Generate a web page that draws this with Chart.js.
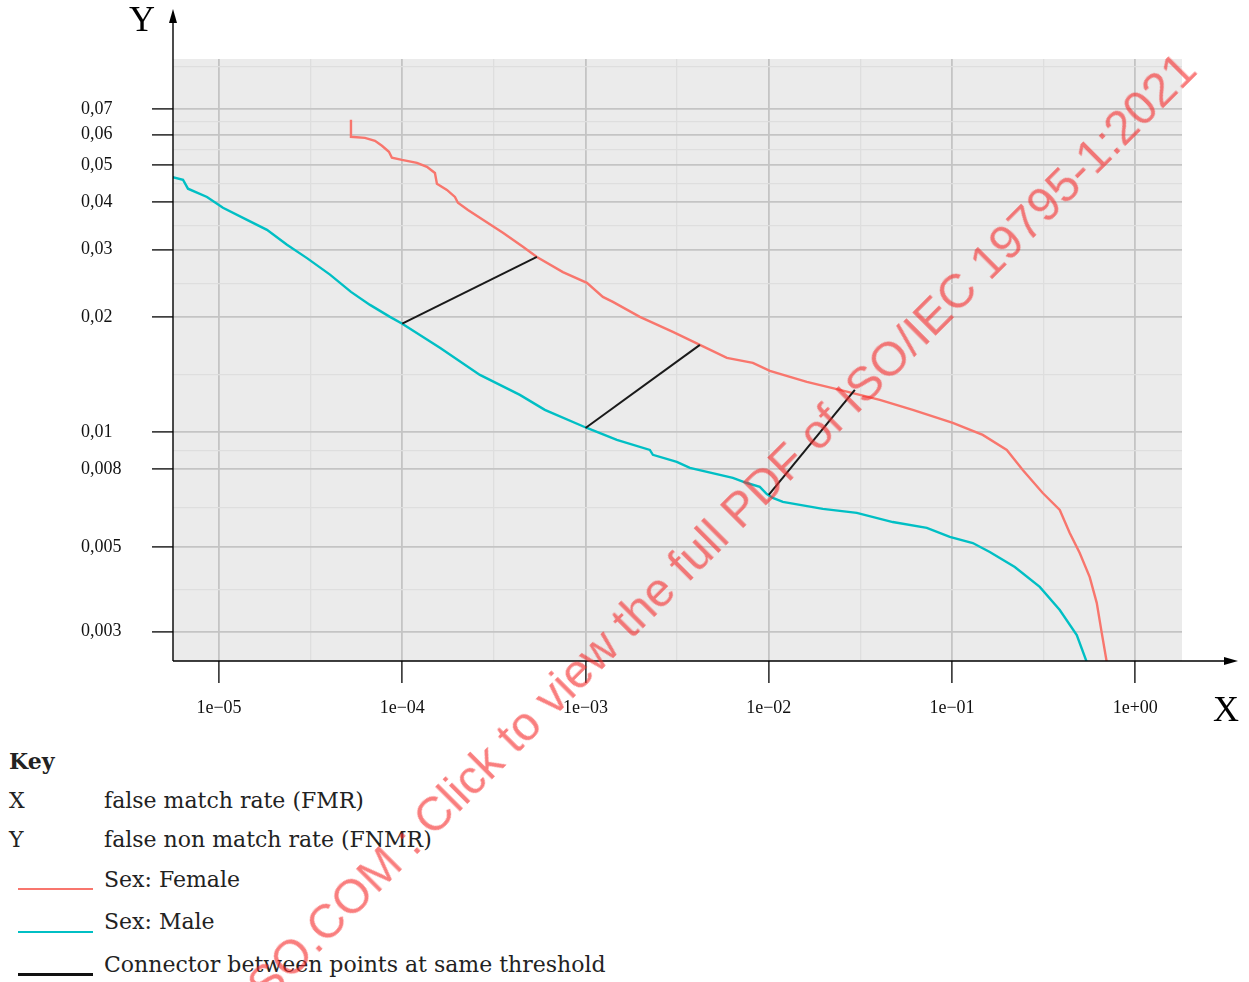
<!DOCTYPE html>
<html>
<head>
<meta charset="utf-8">
<script src="https://cdn.jsdelivr.net/npm/chart.js@4.4.1/dist/chart.umd.min.js"></script>
<style>
  body { margin: 0; background: #fff; width: 1249px; height: 982px; overflow: hidden; position: relative; }
  #wrap { position: absolute; left: 0; top: 0; width: 1249px; height: 740px; }
  .key { position: absolute; font-family: 'DejaVu Serif', serif; font-size: 22px; color: #222; line-height: 30px; white-space: nowrap; }
  .swatch { position: absolute; left: 18px; width: 75px; height: 2px; }
  #wm {
    position: absolute; right: 44px; top: 30px;
    font: 48px 'Liberation Sans', Arial, sans-serif; line-height: 48px;
    color: rgba(245, 40, 40, 0.6); white-space: nowrap;
    transform-origin: 100% 100%; transform: rotate(-45deg);
    pointer-events: none;
  }
</style>
</head>
<body>
<div id="wrap"><canvas id="chart" width="1249" height="740"></canvas></div>

<div class="key" style="left:9px; top:746px; font-weight:bold;">Key</div>
<div class="key" style="left:9px; top:786px;">X</div>
<div class="key" style="left:104px; top:786px;">false match rate (FMR)</div>
<div class="key" style="left:9px; top:825px;">Y</div>
<div class="key" style="left:104px; top:825px;">false non match rate (FNMR)</div>
<div class="swatch" style="top:888px; background:#F8766D;"></div>
<div class="key" style="left:104px; top:865px;">Sex: Female</div>
<div class="swatch" style="top:931px; background:#00BFC4;"></div>
<div class="key" style="left:104px; top:907px;">Sex: Male</div>
<div class="swatch" style="top:973px; height:3px; background:#111;"></div>
<div class="key" style="left:104px; top:950px;">Connector between points at same threshold</div>

<div id="wm">STANDARDSISO.COM : Click to view the full PDF of ISO/IEC 19795-1:2021</div>

<script>
// FMR / FNMR
const femaleFmr = [5.25e-5, 5.25e-5, 6.26e-5, 7.10e-5, 7.75e-5, 8.46e-5, 8.78e-5, 9.96e-5, 1.203e-4, 1.364e-4,
  1.508e-4, 1.546e-4, 1.753e-4, 1.939e-4, 2.013e-4, 2.283e-4, 2.756e-4, 3.543e-4, 4.556e-4, 5.43e-4,
  7.53e-4, 1.018e-3, 1.244e-3, 1.411e-3, 1.980e-3, 2.998e-3, 4.21e-3, 5.91e-3, 8.19e-3, 0.01014,
  0.01614, 0.02443, 0.04037, 0.0611, 0.1010, 0.1472, 0.1991, 0.2434, 0.3129, 0.3875,
  0.4392, 0.4979, 0.5646, 0.6166, 0.6566, 0.6991];
const femaleFnmr = [0.0656, 0.0592, 0.0588, 0.0578, 0.0561, 0.0541, 0.0522, 0.0515, 0.0506, 0.0494,
  0.0476, 0.0446, 0.0430, 0.0412, 0.0398, 0.0381, 0.0359, 0.0332, 0.0305, 0.0287,
  0.0262, 0.02455, 0.02256, 0.02189, 0.0200, 0.01827, 0.0169, 0.01562, 0.01516, 0.01444,
  0.01352, 0.01288, 0.01213, 0.01142, 0.01056, 0.00982, 0.00897, 0.00795, 0.00692, 0.00625,
  0.00544, 0.00482, 0.00417, 0.00357, 0.00298, 0.0025];

const maleFmr = [5.5e-6, 6.36e-6, 6.77e-6, 8.60e-6, 1.051e-5, 1.422e-5, 1.827e-5, 2.350e-5, 3.021e-5, 4.033e-5,
  5.25e-5, 6.67e-5, 8.57e-5, 1.0e-4, 1.605e-4, 2.654e-4, 4.385e-4, 6.00e-4, 1.018e-3, 1.483e-3,
  2.245e-3, 2.332e-3, 3.15e-3, 3.712e-3, 6.37e-3, 7.60e-3, 8.94e-3, 9.76e-3, 0.01053, 0.01194,
  0.01973, 0.03024, 0.04753, 0.0729, 0.0973, 0.1299, 0.1608, 0.2202, 0.3013, 0.3875,
  0.4797, 0.5437];
const maleFnmr = [0.0465, 0.0457, 0.0433, 0.0412, 0.0386, 0.0359, 0.0338, 0.0309, 0.0285, 0.0258,
  0.02325, 0.0215, 0.0200, 0.0192, 0.0166, 0.0141, 0.0125, 0.01142, 0.01024, 0.00953,
  0.00897, 0.00871, 0.00835, 0.00805, 0.00758, 0.00735, 0.00718, 0.00688, 0.00672, 0.00656,
  0.00629, 0.00614, 0.00581, 0.00561, 0.00531, 0.00512, 0.00485, 0.00443, 0.00393, 0.00342,
  0.00294, 0.0025];

// connectors: male point -> female point at same threshold
const connMaleFmr = [1.0e-4, 1.0e-3, 0.01];
const connMaleFnmr = [0.0192, 0.01024, 0.00684];
const connFemaleFmr = [5.43e-4, 4.21e-3, 0.0295];
const connFemaleFnmr = [0.0287, 0.0169, 0.01288];

// axis breaks
const xMajor = [1e-5, 1e-4, 1e-3, 1e-2, 1e-1, 1];
const xMajorLabels = ['1e\u221205', '1e\u221204', '1e\u221203', '1e\u221202', '1e\u221201', '1e+00'];
const xMinor = [3.1623e-5, 3.1623e-4, 3.1623e-3, 0.031623, 0.31623];
const yMajor = [0.003, 0.005, 0.008, 0.01, 0.02, 0.03, 0.04, 0.05, 0.06, 0.07];
const yMajorLabels = ['0,003', '0,005', '0,008', '0,01', '0,02', '0,03', '0,04', '0,05', '0,06', '0,07'];
const yMinor = [0.003873, 0.006325, 0.008944, 0.014142, 0.024495, 0.034641, 0.044721, 0.054772, 0.064807, 0.0905];

const RED = '#F8766D';
const TEAL = '#00BFC4';

function pts(xs, ys) {
    return xs.map((x, i) => ({ x: x, y: ys[i] }));
}

const datasets = [
    { data: pts(femaleFmr, femaleFnmr), borderColor: RED, borderWidth: 2.4, order: 2 },
    { data: pts(maleFmr, maleFnmr), borderColor: TEAL, borderWidth: 2.4, order: 2 }
];
connMaleFmr.forEach((v, i) => {
    datasets.push({
        data: [{ x: v, y: connMaleFnmr[i] }, { x: connFemaleFmr[i], y: connFemaleFnmr[i] }],
        borderColor: '#1a1a1a', borderWidth: 2, order: 1
    });
});
datasets.forEach(d => { d.pointRadius = 0; d.fill = false; d.tension = 0; });

const isMajor = (list, v) => list.some(m => Math.abs(m - v) / m < 1e-6);

// grey panel + arrowed axis lines and axis letters
const decor = {
    id: 'decor',
    beforeDraw(chart) {
        const { ctx, chartArea: a } = chart;
        ctx.save();
        ctx.fillStyle = '#ebebeb';
        ctx.fillRect(a.left, a.top, a.right - a.left, a.bottom - a.top);
        ctx.restore();
    },
    afterDraw(chart) {
        const { ctx, chartArea: a } = chart;
        ctx.save();
        ctx.strokeStyle = '#000';
        ctx.fillStyle = '#000';
        ctx.lineWidth = 1.4;
        ctx.beginPath();
        ctx.moveTo(a.left, a.bottom);
        ctx.lineTo(a.left, 16);
        ctx.moveTo(a.left, a.bottom);
        ctx.lineTo(1228, a.bottom);
        ctx.stroke();
        // arrow heads
        ctx.beginPath();
        ctx.moveTo(a.left, 9);
        ctx.lineTo(a.left - 4, 23);
        ctx.lineTo(a.left + 4, 23);
        ctx.closePath();
        ctx.fill();
        ctx.beginPath();
        ctx.moveTo(1238, a.bottom);
        ctx.lineTo(1224, a.bottom - 4);
        ctx.lineTo(1224, a.bottom + 4);
        ctx.closePath();
        ctx.fill();
        ctx.font = '36px "Liberation Serif", serif';
        ctx.textAlign = 'center';
        ctx.textBaseline = 'middle';
        ctx.fillText('Y', 142, 22);
        ctx.fillText('X', 1226, 712);
        ctx.restore();
    }
};

new Chart(document.getElementById('chart'), {
    type: 'line',
    data: { datasets: datasets },
    plugins: [decor],
    options: {
        responsive: false,
        animation: false,
        layout: { padding: { left: 81, top: 59, right: 67, bottom: 0 } },
        plugins: { legend: { display: false }, tooltip: { enabled: false } },
        scales: {
            x: {
                type: 'logarithmic',
                min: 5.61e-6,
                max: 1.80,
                afterBuildTicks: s => { s.ticks = xMajor.concat(xMinor).sort((a, b) => a - b).map(v => ({ value: v })); },
                afterFit: s => { s.height = 79; },
                border: { display: false },
                grid: {
                    color: c => isMajor(xMajor, c.tick.value) ? '#c4c4c4' : '#dedede',
                    lineWidth: c => isMajor(xMajor, c.tick.value) ? 1.8 : 1.3,
                    tickColor: c => isMajor(xMajor, c.tick.value) ? '#000' : 'rgba(0,0,0,0)',
                    tickWidth: 1.3,
                    tickLength: 22
                },
                ticks: {
                    autoSkip: false,
                    maxRotation: 0,
                    padding: 14,
                    color: '#111',
                    font: { family: '"Liberation Serif", serif', size: 18 },
                    callback: v => { const i = xMajor.findIndex(m => Math.abs(m - v) / m < 1e-6); return i >= 0 ? xMajorLabels[i] : ''; }
                }
            },
            y: {
                type: 'logarithmic',
                min: 0.002515,
                max: 0.0946,
                afterBuildTicks: s => { s.ticks = yMajor.concat(yMinor).sort((a, b) => a - b).map(v => ({ value: v })); },
                afterFit: s => { s.width = 92; },
                border: { display: false },
                grid: {
                    color: c => isMajor(yMajor, c.tick.value) ? '#c4c4c4' : '#dedede',
                    lineWidth: c => isMajor(yMajor, c.tick.value) ? 1.8 : 1.3,
                    tickColor: c => isMajor(yMajor, c.tick.value) ? '#000' : 'rgba(0,0,0,0)',
                    tickWidth: 1.3,
                    tickLength: 21
                },
                ticks: {
                    autoSkip: false,
                    crossAlign: 'far',
                    color: '#111',
                    font: { family: '"Liberation Serif", serif', size: 18 },
                    callback: v => { const i = yMajor.findIndex(m => Math.abs(m - v) / m < 1e-6); return i >= 0 ? yMajorLabels[i] : ''; }
                }
            }
        }
    }
});
</script>
</body>
</html>
